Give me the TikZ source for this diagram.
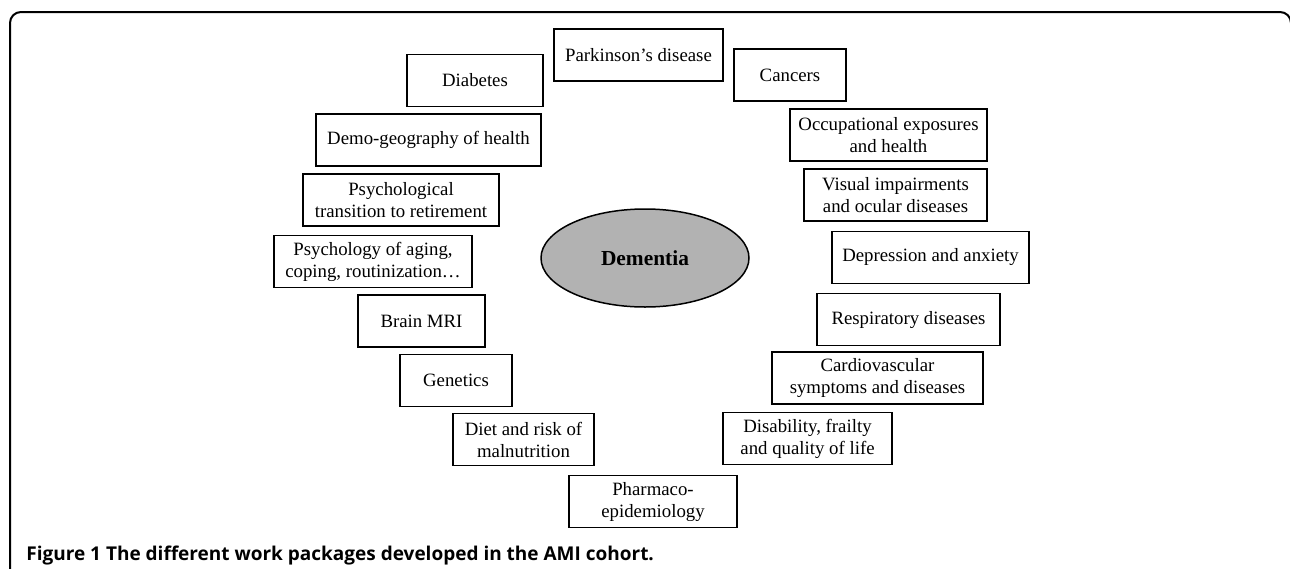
\documentclass[tikz,border=0pt]{standalone}
\usepackage{fontspec}
\setmainfont{Liberation Serif}
\newfontfamily\capfont{Open Sans}
\usetikzlibrary{shapes.geometric}

\begin{document}
\begin{tikzpicture}[x=0.5pt,y=-0.5pt,
  wp node/.style={rectangle,draw,line width=0.75pt,align=center,minimum height=26pt,inner sep=1pt,
    font=\fontsize{9.4}{11}\selectfont},
  main node/.style={ellipse,draw,fill=black!30,line width=0.75pt,minimum width=104pt,minimum height=49pt,
    font=\fontsize{10.7}{13}\selectfont\bfseries}]

  \useasboundingbox (0,0) rectangle (1290,568);
  \clip (0,0) rectangle (1290,568);
  \draw[line width=1pt,rounded corners=5.5pt] (10,12) rectangle (1291,620);

  \node[main node] (dem) at (645,258) {Dementia};

  % left side
  \node[wp node,minimum width=84.5pt] (park) at (638.5,55) {Parkinson’s disease};
  \node[wp node,minimum width=68pt] (diab) at (475,80.5) {Diabetes};
  \node[wp node,minimum width=112.5pt] (geo) at (428.5,140) {Demo-geography of health};
  \node[wp node,minimum width=98pt] (retire) at (401,200) {Psychological\\transition to retirement};
  \node[wp node,minimum width=99pt] (aging) at (373,261.5) {Psychology of aging,\\coping, routinization…};
  \node[wp node,minimum width=63.5pt] (mri) at (421.5,321) {Brain MRI};
  \node[wp node,minimum width=56pt] (gen) at (456,380.5) {Genetics};
  \node[wp node,minimum width=70.5pt] (diet) at (523.5,439.5) {Diet and risk of\\malnutrition};
  \node[wp node,minimum width=84pt] (pharma) at (653,501.5) {Pharmaco-\\epidemiology};

  % right side
  \node[wp node,minimum width=56pt] (canc) at (790,75) {Cancers};
  \node[wp node,minimum width=98.5pt] (occup) at (888.5,135) {Occupational exposures\\and health};
  \node[wp node,minimum width=91.5pt] (visual) at (895.5,195) {Visual impairments\\and ocular diseases};
  \node[wp node,minimum width=98.5pt] (depr) at (930.5,257.5) {Depression and anxiety};
  \node[wp node,minimum width=91.5pt] (resp) at (908.5,319.5) {Respiratory diseases};
  \node[wp node,minimum width=105.5pt] (cardio) at (877.5,378) {Cardiovascular\\symptoms and diseases};
  \node[wp node,minimum width=84.5pt] (disab) at (807.5,438.5) {Disability, frailty\\and quality of life};

  \node[anchor=base west,inner sep=0pt,font=\capfont\bfseries\fontsize{9.5}{11}\selectfont] (caption) at (26,560)
    {Figure 1 The different work packages developed in the AMI cohort.};

\end{tikzpicture}
\end{document}
